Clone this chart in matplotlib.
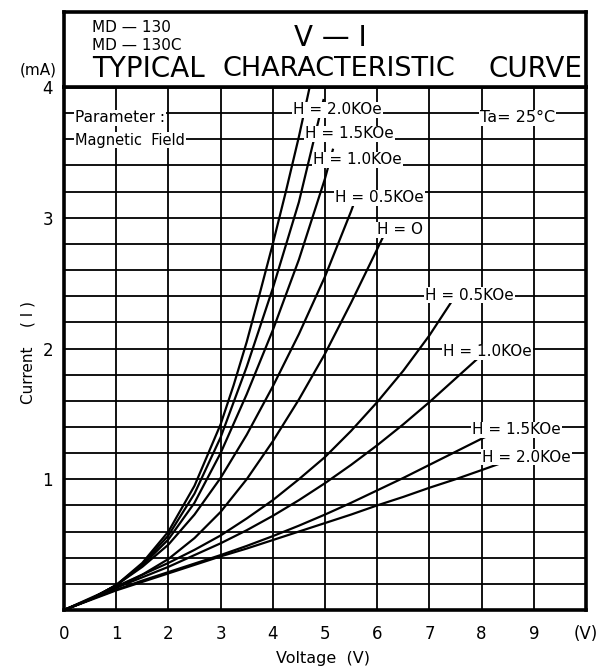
import numpy as np
import matplotlib
matplotlib.use("Agg")
import matplotlib.pyplot as plt

W, H = 610, 669

# voltage (V) / current (mA) points
v_p20 = [0, 0.5, 1, 1.5, 2, 2.5, 3, 3.25, 3.5, 3.75, 4, 4.25, 4.5, 4.75]
i_p20 = [0, 0.08, 0.19, 0.36, 0.6, 0.95, 1.42, 1.72, 2.05, 2.42, 2.8, 3.2, 3.62, 4.08]
v_p15 = [0, 0.5, 1, 1.5, 2, 2.5, 3, 3.5, 4, 4.5, 4.97]
i_p15 = [0, 0.08, 0.19, 0.35, 0.57, 0.89, 1.32, 1.86, 2.46, 3.12, 3.9]
v_p10 = [0, 0.5, 1, 1.5, 2, 2.5, 3, 3.5, 4, 4.5, 5, 5.15]
i_p10 = [0, 0.08, 0.19, 0.34, 0.54, 0.82, 1.2, 1.65, 2.14, 2.68, 3.3, 3.52]
v_p05 = [0, 0.5, 1, 1.5, 2, 2.5, 3, 3.5, 4, 4.5, 5, 5.5, 5.6]
i_p05 = [0, 0.08, 0.19, 0.33, 0.5, 0.73, 1.01, 1.34, 1.71, 2.11, 2.55, 3.05, 3.16]
v_0 = [0, 0.5, 1, 1.5, 2, 2.5, 3, 3.5, 4, 4.5, 5, 5.5, 6, 6.12]
i_0 = [0, 0.08, 0.17, 0.27, 0.39, 0.55, 0.75, 1.0, 1.29, 1.61, 1.96, 2.35, 2.76, 2.86]
v_m05 = [0, 0.5, 1, 1.5, 2, 2.5, 3, 3.5, 4, 4.5, 5, 5.5, 6, 6.5, 7, 7.46]
i_m05 = [0, 0.09, 0.18, 0.27, 0.36, 0.46, 0.57, 0.7, 0.84, 1.0, 1.17, 1.37, 1.59, 1.83,
         2.1, 2.38]
v_m10 = [0, 0.5, 1, 1.5, 2, 2.5, 3, 3.5, 4, 4.5, 5, 5.5, 6, 6.5, 7, 7.5, 8]
i_m10 = [0, 0.085, 0.17, 0.25, 0.33, 0.42, 0.51, 0.61, 0.72, 0.84, 0.97, 1.11, 1.26,
         1.42, 1.59, 1.77, 1.95]
v_m15 = [0, 0.5, 1, 1.5, 2, 2.5, 3, 3.5, 4, 4.5, 5, 5.5, 6, 6.5, 7, 7.5, 8, 8.38]
i_m15 = [0, 0.08, 0.155, 0.225, 0.29, 0.355, 0.42, 0.49, 0.565, 0.645, 0.73, 0.82,
         0.915, 1.01, 1.11, 1.21, 1.31, 1.38]
v_m20 = [0, 0.5, 1, 1.5, 2, 2.5, 3, 3.5, 4, 4.5, 5, 5.5, 6, 6.5, 7, 7.5, 8, 8.63]
i_m20 = [0, 0.075, 0.15, 0.215, 0.28, 0.345, 0.41, 0.47, 0.535, 0.6, 0.665, 0.73, 0.8,
         0.865, 0.935, 1.0, 1.07, 1.16]

curve_labels = ["H = 2.0KOe", "H = 1.5KOe", "H = 1.0KOe", "H = 0.5KOe", "H = O",
                "H = 0.5KOe", "H = 1.0KOe", "H = 1.5KOe", "H = 2.0KOe"]
x_ticklabels = ["0", "1", "2", "3", "4", "5", "6", "7", "8", "9", "(V)"]


def fx(px):
    return px / W


def fy(py):
    return 1 - py / H


fig = plt.figure(figsize=(W / 100, H / 100), dpi=100)
fig.patch.set_facecolor("white")

left, right, top, bottom = 64, 586, 87, 610
ax = fig.add_axes([fx(left), fy(bottom), (right - left) / W, (bottom - top) / H])
ax.set_xlim(0, 10)
ax.set_ylim(0, 4)

ax.set_xticks(np.arange(0, 11, 1))
ax.set_xticklabels(x_ticklabels, fontsize=12)
yt = np.arange(0, 4.01, 0.2)
ax.set_yticks(yt)
ax.set_yticklabels([f"{t:.0f}" if abs(t - round(t)) < 1e-6 and t > 0 else "" for t in yt],
                   fontsize=12)
ax.tick_params(length=0)
ax.tick_params(axis="x", pad=11)
ax.tick_params(axis="y", pad=8)
ax.grid(True, color="black", lw=1.3, zorder=1)
ax.set_axisbelow(True)
for s in ax.spines.values():
    s.set_linewidth(2.6)

curves = [(v_p20, i_p20), (v_p15, i_p15), (v_p10, i_p10), (v_p05, i_p05), (v_0, i_0),
          (v_m05, i_m05), (v_m10, i_m10), (v_m15, i_m15), (v_m20, i_m20)]
for v, i in curves:
    ax.plot(v, i, color="black", lw=1.6, zorder=2, solid_joinstyle="round")

# curve labels: left x pixel, centre y pixel
label_pos = [(293, 110), (305, 134), (313, 160), (335, 198), (377, 230),
             (425, 295), (443, 352), (472, 430), (482, 457)]
for txt, (px, py) in zip(curve_labels, label_pos):
    fig.text(fx(px), fy(py), txt, fontsize=11, ha="left", va="center", zorder=5,
             bbox=dict(facecolor="white", edgecolor="none", pad=0.5))

box = dict(facecolor="white", edgecolor="none", pad=0.6)
fig.text(fx(75), fy(118), "Parameter :", fontsize=11, ha="left", va="center", bbox=box)
fig.text(fx(75), fy(140), "Magnetic  Field", fontsize=10.5, ha="left", va="center", bbox=box)
fig.text(fx(480), fy(118), "Ta= 25°C", fontsize=11.5, ha="left", va="center", bbox=box)

# header box
hax = fig.add_axes([fx(left), fy(top), (right - left) / W, (top - 12) / H])
hax.set_xticks([])
hax.set_yticks([])
for s in hax.spines.values():
    s.set_linewidth(2.6)

fig.text(fx(92), fy(28), "MD — 130", fontsize=11, ha="left", va="center")
fig.text(fx(92), fy(45), "MD — 130C", fontsize=11, ha="left", va="center")
fig.text(fx(330), fy(38), "V — I", fontsize=20, ha="center", va="center")
fig.text(fx(92), fy(69), "TYPICAL", fontsize=20, ha="left", va="center")
fig.text(fx(222), fy(69), "CHARACTERISTIC", fontsize=19.5, ha="left", va="center")
fig.text(fx(583), fy(69), "CURVE", fontsize=20, ha="right", va="center")

fig.text(fx(38), fy(70), "(mA)", fontsize=11, ha="center", va="center")
fig.text(fx(28), fy(352), "Current    ( I )", fontsize=11, rotation=90,
         ha="center", va="center")
fig.text(fx(323), fy(658), "Voltage  (V)", fontsize=11.5, ha="center", va="center")

fig.savefig("out.png", dpi=100, facecolor="white")
